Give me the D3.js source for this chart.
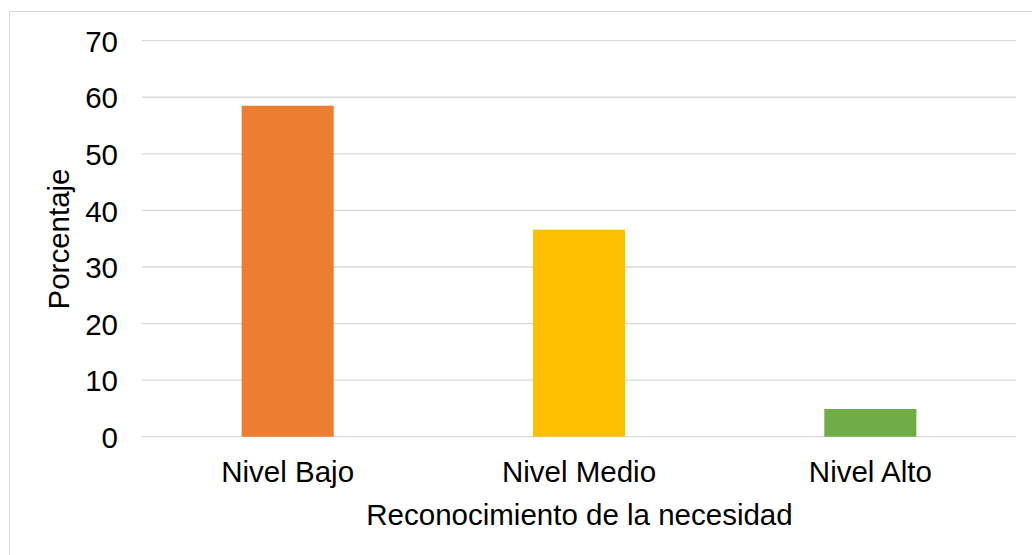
<!DOCTYPE html>
<html>
<head>
<meta charset="utf-8">
<script src="https://cdn.jsdelivr.net/npm/d3@7"></script>
<style>
  html, body { margin: 0; padding: 0; background: #fff; }
  svg { display: block; }
  text { font-family: "Liberation Sans", Arial, sans-serif; fill: #000; }
</style>
</head>
<body>
<svg id="chart" width="1032" height="555"></svg>
<script>
const categories = ["Nivel Bajo", "Nivel Medio", "Nivel Alto"];
const values = [58.5, 36.6, 4.9];
const colors = ["#ED7D31", "#FFC000", "#70AD47"];
const yTicks = [0, 10, 20, 30, 40, 50, 60, 70];
const yTitle = "Porcentaje";
const xTitle = "Reconocimiento de la necesidad";

const FS = 29.5;
const svg = d3.select("#chart");
const margin = { left: 142, right: 1016, top: 40.7, bottom: 436.7 };

// outer chart border
svg.append("rect")
  .attr("x", 9.5).attr("y", 11.5)
  .attr("width", 1040).attr("height", 560)
  .attr("fill", "none").attr("stroke", "#D9D9D9").attr("stroke-width", 1);

const x = d3.scaleBand()
  .domain(categories)
  .range([margin.left, margin.right])
  .paddingInner(0.684)
  .paddingOuter(0.342);

const y = d3.scaleLinear()
  .domain([0, 70])
  .range([margin.bottom, margin.top]);

// gridlines
svg.append("g")
  .selectAll("line")
  .data(yTicks)
  .join("line")
  .attr("x1", margin.left).attr("x2", margin.right)
  .attr("y1", d => y(d)).attr("y2", d => y(d))
  .attr("stroke", "#D9D9D9").attr("stroke-width", 1.3);

// y axis labels
const yAxis = d3.axisLeft(y).tickValues(yTicks).tickSize(0).tickPadding(0).tickFormat(d3.format("d"));
const yg = svg.append("g").attr("transform", `translate(118,0)`).call(yAxis);
yg.select(".domain").remove();
yg.selectAll("text")
  .attr("font-size", FS)
  .attr("font-family", "Liberation Sans, Arial, sans-serif")
  .attr("fill", "#000")
  .attr("dy", "0.36em");

// bars
svg.append("g")
  .selectAll("rect")
  .data(categories)
  .join("rect")
  .attr("x", d => x(d))
  .attr("width", x.bandwidth())
  .attr("y", (d, i) => y(values[i]))
  .attr("height", (d, i) => y(0) - y(values[i]))
  .attr("fill", (d, i) => colors[i]);

// x axis labels
const xAxis = d3.axisBottom(x).tickSize(0).tickPadding(0);
const xg = svg.append("g").attr("transform", `translate(0,${margin.bottom})`).call(xAxis);
xg.select(".domain").remove();
xg.selectAll("text")
  .attr("font-size", FS)
  .attr("font-family", "Liberation Sans, Arial, sans-serif")
  .attr("fill", "#000")
  .attr("y", 45).attr("dy", 0);

// axis titles
svg.append("text")
  .attr("x", (margin.left + margin.right) / 2 + 0.5)
  .attr("y", 525)
  .attr("text-anchor", "middle")
  .attr("font-size", FS)
  .text(xTitle);

svg.append("text")
  .attr("transform", "translate(69,239) rotate(-90)")
  .attr("text-anchor", "middle")
  .attr("font-size", FS)
  .text(yTitle);
</script>
</body>
</html>
